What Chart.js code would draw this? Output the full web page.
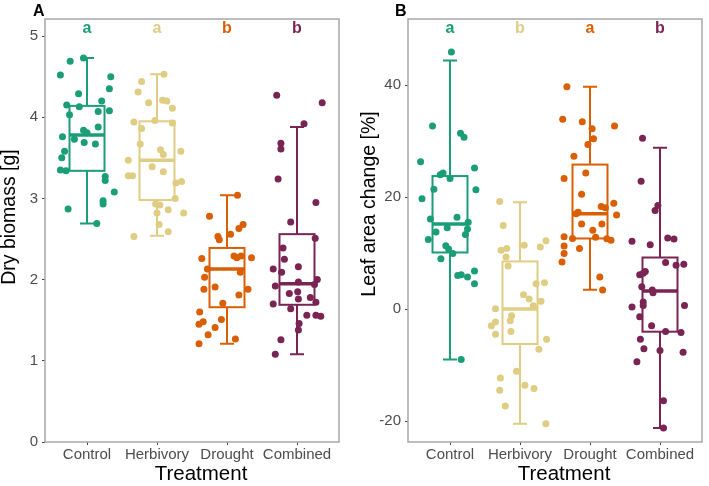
<!DOCTYPE html>
<html>
<head>
<meta charset="utf-8">
<script src="https://cdn.jsdelivr.net/npm/chart.js@4.4.1/dist/chart.umd.min.js"></script>
<style>
  html, body { margin: 0; padding: 0; background: #fff; }
  #wrap { position: relative; width: 709px; height: 486px; }
  .panel { position: absolute; top: 0; height: 486px; }
  #panelA { left: 0; width: 355px; }
  #panelB { left: 355px; width: 354px; }
</style>
</head>
<body>
<div id="wrap">
  <div class="panel" id="panelA"><canvas id="chartA"></canvas></div>
  <div class="panel" id="panelB"><canvas id="chartB"></canvas></div>
</div>
<script>
// Groups and colours
const treatments = ['Control', 'Herbivory', 'Drought', 'Combined'];
const treatmentColors = ['#1b9e77', '#dfcd84', '#d95f02', '#7a2454'];

// Panel A - dry biomass [g], points as [jitter, value]
const biomassControl = [[-0.05,4.73],[-0.24,4.69],[-0.38,4.52],[0.34,4.50],[0.32,4.35],[-0.12,4.29],[0.21,4.20],[-0.29,4.15],[-0.11,4.13],[0.32,4.08],[0.16,4.07],[-0.25,4.03],[0.16,3.88],[-0.05,3.84],[0,3.81],[-0.35,3.76],[-0.18,3.73],[-0.04,3.69],[0.12,3.67],[-0.32,3.58],[-0.36,3.50],[-0.38,3.35],[-0.30,3.34],[0.26,3.27],[0.26,3.22],[0.39,3.08],[0.23,2.97],[0.23,2.93],[-0.27,2.87],[0.14,2.69]];
const biomassHerbivory = [[0.10,4.53],[-0.22,4.44],[-0.27,4.31],[-0.12,4.18],[0.08,4.21],[0.14,4.20],[0.22,4.11],[-0.33,3.94],[-0.03,3.96],[0.22,3.93],[-0.22,3.86],[-0.24,3.67],[0.05,3.60],[0.09,3.54],[0.34,3.58],[-0.41,3.47],[-0.07,3.39],[0.09,3.33],[-0.41,3.28],[-0.35,3.28],[0.27,3.19],[0.35,3.21],[0.26,3.00],[-0.02,2.93],[0.04,2.92],[0,2.82],[0.16,2.86],[0.38,2.82],[0.03,2.68],[0.16,2.59],[-0.33,2.53]];
const biomassDrought = [[0.15,3.04],[-0.25,2.78],[0.23,2.68],[0.17,2.63],[0.05,2.56],[-0.13,2.53],[-0.11,2.49],[0.10,2.29],[0.14,2.27],[0.20,2.29],[0.35,2.27],[-0.36,2.26],[-0.28,2.13],[0.19,2.09],[-0.32,2.03],[-0.33,1.88],[-0.17,1.91],[0.30,1.88],[0.17,1.81],[-0.06,1.71],[-0.39,1.60],[-0.34,1.48],[-0.40,1.45],[-0.08,1.51],[-0.17,1.41],[-0.27,1.32],[0.12,1.27],[-0.40,1.21]];
const biomassCombined = [[-0.29,4.27],[0.36,4.18],[0.10,3.92],[-0.23,3.68],[-0.23,3.61],[-0.27,3.24],[0.27,2.95],[-0.09,2.71],[0.26,2.51],[-0.20,2.39],[-0.18,2.25],[0.02,2.16],[-0.34,2.13],[-0.22,2.09],[0.29,2.00],[0.02,1.97],[-0.31,1.92],[0.25,1.94],[-0.11,1.83],[0.01,1.85],[0.19,1.78],[0.02,1.76],[-0.34,1.70],[0.27,1.72],[-0.09,1.64],[0.14,1.56],[0.27,1.56],[0.34,1.55],[0.03,1.46],[0.02,1.38],[-0.23,1.26],[-0.31,1.08]];
// box stats: [lower whisker, Q1, median, Q3, upper whisker]
const biomassStats = [[2.69,3.34,3.78,4.14,4.73],[2.54,2.98,3.47,3.95,4.53],[1.21,1.66,2.13,2.39,3.04],[1.08,1.69,1.95,2.56,3.88]];
const biomassLetters = ['a', 'a', 'b', 'b'];
const biomassTicks = [0, 1, 2, 3, 4, 5];

// Panel B - leaf area change [%]
const leafControl = [[0.02,45.9],[-0.25,32.7],[0.15,31.4],[0.20,30.7],[-0.42,26.3],[0.35,25.2],[-0.14,24.0],[-0.10,24.3],[0,23.3],[0.37,21.3],[-0.23,21.4],[-0.40,19.7],[0.10,16.4],[-0.28,16.1],[0.26,15.5],[0.25,14.3],[-0.04,14.5],[-0.20,13.75],[0.22,13.3],[-0.31,12.4],[-0.06,11.3],[-0.02,10.7],[0.04,9.9],[-0.13,9.0],[0.35,6.8],[0.11,6.0],[0.16,6.1],[0.25,5.7],[0.35,4.5],[0.16,-9.0]];
const leafHerbivory = [[-0.29,19.2],[-0.24,14.9],[-0.27,10.5],[-0.19,10.8],[-0.20,9.3],[0.06,11.4],[0.29,11.1],[0.37,12.2],[-0.17,7.7],[0.23,4.5],[0.35,4.7],[0.05,2.55],[0.13,1.8],[0.30,1.4],[0.19,0.6],[-0.35,0.05],[-0.12,-1.2],[-0.35,-2.3],[-0.14,-2.1],[-0.41,-3.0],[-0.35,-4.5],[-0.13,-4.0],[0.38,-5.4],[0.27,-7.2],[-0.05,-11.1],[-0.28,-12.3],[0.07,-13.6],[0.20,-14.2],[-0.29,-14.5],[-0.21,-17.3],[0.37,-20.5]];
const leafDrought = [[-0.33,39.7],[-0.39,33.9],[-0.11,33.45],[0.35,32.7],[0.03,32.2],[0.05,30.4],[-0.03,29.4],[-0.23,27.3],[-0.37,23.3],[-0.06,24.3],[-0.12,20.5],[0.34,18.9],[0.16,18.3],[0.22,18.1],[0.38,16.8],[-0.17,17.3],[-0.20,17.0],[-0.12,15.2],[0.17,15.2],[0.04,14.05],[-0.37,12.9],[-0.25,12.6],[0.08,12.8],[0.24,12.55],[0.30,12.3],[-0.37,11.25],[-0.15,10.8],[-0.37,9.9],[-0.40,8.4],[0.14,5.7],[0.18,3.4]];
const leafCombined = [[-0.25,30.5],[-0.27,22.8],[-0.03,18.5],[-0.07,17.6],[-0.40,12.1],[-0.14,11.5],[0.11,12.7],[0.20,12.5],[0.08,8.3],[0.23,7.8],[0.34,8.0],[-0.21,6.7],[-0.29,6.1],[-0.24,6.4],[-0.26,4.0],[-0.11,3.4],[-0.10,2.9],[-0.40,0.35],[-0.24,1.25],[-0.24,0.65],[0.35,0.65],[-0.29,-1.4],[-0.12,-3.0],[0.08,-4.0],[0.30,-4.2],[-0.28,-5.4],[-0.23,-7.1],[0,-7.4],[0.33,-7.7],[-0.33,-9.4],[0.05,-16.4],[0.05,-21.25]];
const leafStats = [[-9.0,10.1,15.2,23.75,44.4],[-20.5,-6.25,0.0,8.5,19.05],[3.45,12.6,17.0,25.8,39.7],[-21.25,-4.05,3.2,9.2,28.8]];
const leafLetters = ['a', 'b', 'a', 'b'];
const leafTicks = [-20, 0, 20, 40];

const FONT = "'Liberation Sans', Arial, sans-serif";

// Draws boxes, panel frame, significance letters and axis titles
const boxPanel = {
    id: 'boxPanel',
    beforeDatasetsDraw(chart, args, o) {
        const ctx = chart.ctx;
        const x = chart.scales.x, y = chart.scales.y;
        ctx.save();
        o.stats.forEach(function(s, i) {
            const c = i + 1;
            const xl = x.getPixelForValue(c - 0.25), xr = x.getPixelForValue(c + 0.25);
            const cl = x.getPixelForValue(c - 0.1), cr = x.getPixelForValue(c + 0.1);
            const xc = x.getPixelForValue(c);
            const p = s.map(v => y.getPixelForValue(v));
            ctx.strokeStyle = treatmentColors[i];
            ctx.lineWidth = 2;
            ctx.beginPath();
            ctx.moveTo(xc, p[3]); ctx.lineTo(xc, p[4]);
            ctx.moveTo(xc, p[1]); ctx.lineTo(xc, p[0]);
            ctx.moveTo(cl, p[4]); ctx.lineTo(cr, p[4]);
            ctx.moveTo(cl, p[0]); ctx.lineTo(cr, p[0]);
            ctx.stroke();
            ctx.strokeRect(xl, p[3], xr - xl, p[1] - p[3]);
            ctx.lineWidth = 3.5;
            ctx.beginPath();
            ctx.moveTo(xl, p[2]); ctx.lineTo(xr, p[2]);
            ctx.stroke();
        });
        ctx.restore();
    },
    afterDraw(chart, args, o) {
        const ctx = chart.ctx;
        const a = chart.chartArea;
        const x = chart.scales.x, y = chart.scales.y;
        ctx.save();
        // panel frame
        ctx.strokeStyle = '#a8a8a8';
        ctx.lineWidth = 1.5;
        ctx.strokeRect(a.left, a.top, a.right - a.left, a.bottom - a.top);

        // letters above boxes
        ctx.font = 'bold 16px ' + FONT;
        ctx.textAlign = 'center';
        ctx.textBaseline = 'alphabetic';
        o.letters.forEach(function(l, i) {
            ctx.fillStyle = treatmentColors[i];
            ctx.fillText(l, x.getPixelForValue(i + 1), y.getPixelForValue(o.letterY));
        });

        // panel tag
        ctx.fillStyle = '#000';
        ctx.textAlign = 'left';
        ctx.font = 'bold 16px ' + FONT;
        ctx.fillText(o.tag, o.tagX, 16);

        // x title
        ctx.textAlign = 'center';
        ctx.font = '20.5px ' + FONT;
        ctx.fillText('Treatment', o.xTitleX, 480);

        // y title
        ctx.translate(o.yTitleX, o.yTitleY);
        ctx.rotate(-Math.PI / 2);
        ctx.font = '19.5px ' + FONT;
        ctx.textBaseline = 'middle';
        ctx.fillText(o.yTitle, 0, 0);
        ctx.restore();
    }
};

function makePanel(canvasId, groups, p) {
    const datasets = groups.map(function(pts, i) {
        return {
            data: pts.map(d => ({ x: i + 1 + d[0], y: d[1] })),
            pointRadius: 3.5,
            pointHoverRadius: 3.5,
            pointBackgroundColor: treatmentColors[i],
            pointBorderWidth: 0,
            showLine: false
        };
    });

    const tickStyle = { size: 15, family: FONT };

    return new Chart(document.getElementById(canvasId), {
        type: 'scatter',
        data: { datasets: datasets },
        plugins: [boxPanel],
        options: {
            responsive: true,
            maintainAspectRatio: false,
            animation: false,
            events: [],
            layout: { padding: { top: 19, right: p.padRight, bottom: 0, left: 0 } },
            scales: {
                x: {
                    type: 'linear',
                    min: 0.4,
                    max: 4.6,
                    afterBuildTicks: s => { s.ticks = treatments.map((t, i) => ({ value: i + 1 })); },
                    afterFit: s => { s.height = 44; },
                    grid: { drawOnChartArea: false, drawTicks: true, tickLength: 3, color: '#444' },
                    border: { display: false },
                    ticks: {
                        autoSkip: false,
                        maxRotation: 0,
                        padding: 1,
                        color: '#4d4d4d',
                        font: tickStyle,
                        callback: v => treatments[Math.round(v) - 1]
                    }
                },
                y: {
                    type: 'linear',
                    min: p.yMin,
                    max: p.yMax,
                    afterBuildTicks: s => { s.ticks = p.yTicks.map(v => ({ value: v })); },
                    afterFit: s => { s.width = p.axisWidth; },
                    grid: { drawOnChartArea: false, drawTicks: true, tickLength: 3, color: '#444' },
                    border: { display: false },
                    ticks: {
                        padding: 4,
                        color: '#4d4d4d',
                        font: tickStyle,
                        callback: v => String(v)
                    }
                }
            },
            plugins: {
                legend: { display: false },
                tooltip: { enabled: false },
                boxPanel: p.box
            }
        }
    });
}

makePanel('chartA', [biomassControl, biomassHerbivory, biomassDrought, biomassCombined], {
    yMin: 0, yMax: 5.21, yTicks: biomassTicks, axisWidth: 45, padRight: 16,
    box: { stats: biomassStats, letters: biomassLetters, letterY: 5.04, tag: 'A', tagX: 33,
           xTitleX: 201, yTitle: 'Dry biomass [g]', yTitleX: 10, yTitleY: 217 }
});

makePanel('chartB', [leafControl, leafHerbivory, leafDrought, leafCombined], {
    yMin: -23.75, yMax: 51.8, yTicks: leafTicks, axisWidth: 53, padRight: 7,
    box: { stats: leafStats, letters: leafLetters, letterY: 49.3, tag: 'B', tagX: 40,
           xTitleX: 209, yTitle: 'Leaf area change [%]', yTitleX: 15, yTitleY: 204 }
});
</script>
</body>
</html>
